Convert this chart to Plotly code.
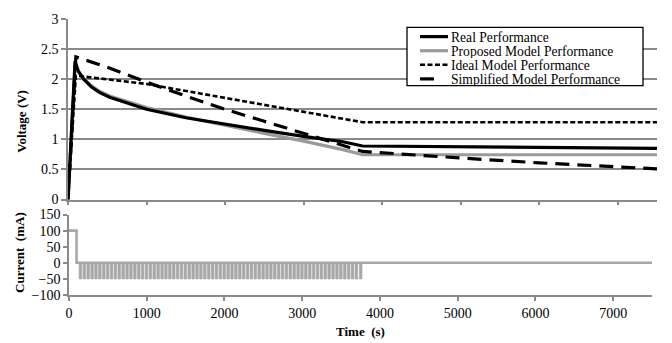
import plotly.graph_objects as go

# ---------------- data ----------------
real_t = [0, 90, 130, 200, 300, 400, 530, 750, 1000, 1500, 2000, 2500, 3000, 3500, 3750, 5000, 7500]
real_v = [0, 2.30, 2.14, 2.00, 1.87, 1.78, 1.70, 1.61, 1.50, 1.36, 1.25, 1.15, 1.05, 0.96, 0.89, 0.875, 0.85]

prop_t = [0, 90, 130, 200, 300, 400, 530, 750, 1000, 1500, 2000, 2500, 3000, 3500, 3750, 7500]
prop_v = [0, 2.22, 2.12, 2.01, 1.89, 1.80, 1.72, 1.63, 1.53, 1.37, 1.23, 1.10, 0.97, 0.83, 0.745, 0.745]

ideal_t = [0, 100, 1000, 2000, 3000, 3750, 7500]
ideal_v = [0, 2.06, 1.92, 1.69, 1.46, 1.285, 1.285]

simp_t = [0, 100, 500, 1000, 1500, 2000, 2500, 3000, 3500, 3750, 5000, 6000, 7500]
simp_v = [0, 2.37, 2.20, 1.95, 1.72, 1.50, 1.30, 1.10, 0.90, 0.80, 0.69, 0.61, 0.51]

charge_current = 100      # mA
charge_end = 97           # s
pulse_current = -50       # mA
pulse_width = 34          # s
pulse_starts = [130, 180, 230, 280, 330, 380, 430, 480, 530, 580, 630, 680, 730, 780,
                830, 880, 930, 980, 1030, 1080, 1130, 1180, 1230, 1280, 1330, 1380,
                1430, 1480, 1530, 1580, 1630, 1680, 1730, 1780, 1830, 1880, 1930, 1980,
                2030, 2080, 2130, 2180, 2230, 2280, 2330, 2380, 2430, 2480, 2530, 2580,
                2630, 2680, 2730, 2780, 2830, 2880, 2930, 2980, 3030, 3080, 3130, 3180,
                3230, 3280, 3330, 3380, 3430, 3480, 3530, 3580, 3630, 3680, 3736]
t_end = 7500

x_ticks = [0, 1000, 2000, 3000, 4000, 5000, 6000, 7000]
v_ticks = [0, 0.5, 1, 1.5, 2, 2.5, 3]
i_ticks = [-100, -50, 0, 50, 100, 150]

legend_names = ["Real Performance", "Proposed Model Performance",
                "Ideal Model Performance", "Simplified Model Performance"]

# ---------------- build current step series ----------------
pulse_x, pulse_y = [], []
for s in pulse_starts:
    pulse_x += [s, s, s + pulse_width, s + pulse_width]
    pulse_y += [0, pulse_current, pulse_current, 0]

# charge step + rest level (0 mA) drawn as the thick base line
base_x = [0, charge_end, charge_end, t_end]
base_y = [charge_current, charge_current, 0, 0]

FONT = "Liberation Serif, Times New Roman, serif"
GRAY_AX = "#8a8a8a"
GRAY_LINE = "#9a9a9a"
GRAY_CUR = "#a8a8a8"

styles = [
    dict(color="black", width=3.2, dash="solid"),
    dict(color=GRAY_LINE, width=3.2, dash="solid"),
    dict(color="black", width=2.6, dash="5px,2.5px"),
    dict(color="black", width=3.2, dash="14px,8px"),
]

fig = go.Figure()
series = [(real_t, real_v), (prop_t, prop_v), (ideal_t, ideal_v), (simp_t, simp_v)]
for idx in [1, 0, 2, 3]:
    t, v = series[idx]
    fig.add_trace(go.Scatter(x=t, y=v, mode="lines", name=legend_names[idx],
                             line=styles[idx], xaxis="x", yaxis="y",
                             showlegend=False))

fig.add_trace(go.Scatter(x=pulse_x, y=pulse_y, mode="lines", fill="tozeroy",
                         fillcolor=GRAY_CUR, line=dict(width=0.6, color=GRAY_CUR),
                         xaxis="x2", yaxis="y2", showlegend=False, name="Current pulses"))
fig.add_trace(go.Scatter(x=base_x, y=base_y, mode="lines",
                         line=dict(color=GRAY_CUR, width=2.6),
                         xaxis="x2", yaxis="y2", showlegend=False, name="Current"))

# ---------------- manual legend ----------------
L, R, T, B = 68, 15, 13, 48
W, H = 672 - L - R, 343 - T - B


def px(x):
    return (x - L) / W


def py(y):
    return (343 - B - y) / H


shapes = [dict(type="rect", xref="paper", yref="paper",
               x0=px(407), x1=px(643), y0=py(81), y1=py(21.5),
               fillcolor="white", line=dict(color="black", width=1.3), layer="above")]
annotations = []
rows = [31, 45.4, 59.8, 74.2]
for i, (name, yy) in enumerate(zip(legend_names, rows)):
    st = styles[i]
    x1 = 437 if i == 3 else 448
    shapes.append(dict(type="line", xref="paper", yref="paper",
                       x0=px(420), x1=px(x1), y0=py(yy), y1=py(yy),
                       line=dict(color=st["color"], width=st["width"],
                                 dash=st["dash"]), layer="above"))
    annotations.append(dict(xref="paper", yref="paper", x=px(449), y=py(yy),
                            text=name, showarrow=False, xanchor="left",
                            yanchor="middle", height=14, valign="middle",
                            font=dict(family=FONT, size=13.6, color="black")))

annotations.append(dict(xref="paper", yref="paper", x=px(22), y=py(118),
                        xanchor="center", yanchor="middle",
                        text="<b>Voltage (V)</b>", textangle=-90, showarrow=False,
                        font=dict(family=FONT, size=13, color="black")))
annotations.append(dict(xref="paper", yref="paper", x=px(20), y=py(252),
                        xanchor="center", yanchor="middle",
                        text="<b>Current  (mA)</b>", textangle=-90, showarrow=False,
                        font=dict(family=FONT, size=13, color="black")))
annotations.append(dict(xref="paper", yref="paper", x=px(360), y=py(332),
                        xanchor="center", yanchor="middle",
                        text="<b>Time  (s)</b>", showarrow=False,
                        font=dict(family=FONT, size=13, color="black")))

axis_common = dict(showline=True, linecolor=GRAY_AX, linewidth=1.5,
                   ticks="outside", tickcolor=GRAY_AX, tickwidth=1.5,
                   tickfont=dict(family=FONT, size=14, color="black"),
                   zeroline=False)

top_y0 = (295 - 197.5) / H
bot_y1 = (295 - 212.8) / H

fig.update_layout(
    width=672, height=343,
    margin=dict(l=L, r=R, t=T, b=B),
    paper_bgcolor="white", plot_bgcolor="white",
    showlegend=False,
    xaxis=dict(domain=[0, 1], range=[0, 7500], anchor="y", tickvals=x_ticks,
               showticklabels=False, showgrid=False, ticklen=4, **axis_common),
    yaxis=dict(domain=[top_y0, 1], range=[0, 3], anchor="x", tickvals=v_ticks,
               showgrid=True, gridcolor=GRAY_AX, gridwidth=1.5, ticklen=5,
               **axis_common),
    xaxis2=dict(domain=[px(69), px(652)], range=[0, 7500], anchor="y2",
                tickvals=x_ticks, showgrid=False, ticklen=4, **axis_common),
    yaxis2=dict(domain=[0, bot_y1], range=[-100, 150], anchor="x2",
                tickvals=i_ticks, showgrid=False, ticklen=4, **axis_common),
    shapes=shapes,
    annotations=annotations,
)

fig.write_html("out.html")
